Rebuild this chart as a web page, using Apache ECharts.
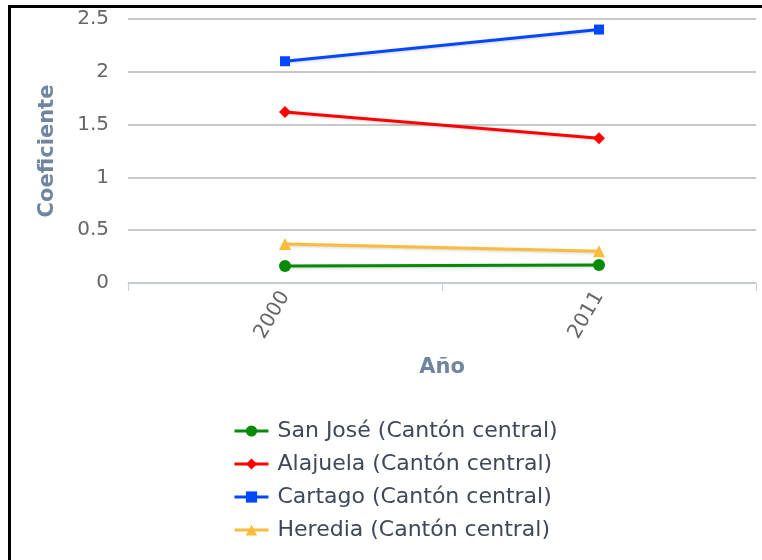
<!DOCTYPE html>
<html>
<head>
<meta charset="utf-8">
<script src="https://cdn.jsdelivr.net/npm/echarts@6/dist/echarts.min.js"></script>
<style>
  html, body { margin: 0; padding: 0; background: #fff; }
  #chart { width: 762px; height: 560px; }
</style>
</head>
<body>
<div id="chart"></div>
<script>
// Years on the category axis
const years = ['2000', '2011'];

// Coefficient per canton (central canton of each province)
const sanJose = [0.16, 0.17];
const alajuela = [1.62, 1.37];
const cartago = [2.10, 2.40];
const heredia = [0.37, 0.30];

const seriesNames = [
  'San José (Cantón central)',
  'Alajuela (Cantón central)',
  'Cartago (Cantón central)',
  'Heredia (Cantón central)'
];

const FONT = '"DejaVu Sans", "Lucida Grande", sans-serif';

function lineSeries(name, data, color, symbol, size) {
  return {
    name: name,
    type: 'line',
    data: data,
    symbol: symbol,
    symbolSize: size,
    showAllSymbol: true,
    itemStyle: { color: color },
    lineStyle: {
      color: color,
      width: 3,
      shadowColor: 'rgba(0,0,0,0.18)',
      shadowBlur: 3,
      shadowOffsetX: 1,
      shadowOffsetY: 1
    },
    emphasis: { disabled: true },
    animation: false
  };
}

const chart = echarts.init(document.getElementById('chart'), null, { renderer: 'canvas' });

chart.setOption({
  backgroundColor: '#ffffff',
  animation: false,
  grid: { left: 128, right: 6, top: 19, bottom: 277, containLabel: false },
  xAxis: {
    type: 'category',
    data: years,
    boundaryGap: true,
    name: 'Año',
    nameLocation: 'middle',
    nameGap: 74,
    nameTextStyle: { fontFamily: FONT, fontSize: 21, fontWeight: 'bold', color: '#6f86a1' },
    axisLine: { show: true, lineStyle: { color: '#c0d0e0', width: 1 } },
    axisTick: { show: true, length: 8, lineStyle: { color: '#c0d0e0' } },
    axisLabel: { rotate: 60, margin: 10, fontFamily: FONT, fontSize: 20, color: '#666666' },
    splitLine: { show: false }
  },
  yAxis: {
    type: 'value',
    min: 0,
    max: 2.5,
    interval: 0.5,
    name: 'Coeficiente',
    nameLocation: 'middle',
    nameGap: 70,
    nameRotate: 90,
    nameTextStyle: { fontFamily: FONT, fontSize: 21, fontWeight: 'bold', color: '#6f86a1' },
    axisLine: { show: false },
    axisTick: { show: false },
    axisLabel: { margin: 19, fontFamily: FONT, fontSize: 20, color: '#666666' },
    splitLine: { show: true, lineStyle: { color: '#c8c8c8', width: 2 } }
  },
  legend: {
    orient: 'vertical',
    left: 228,
    top: 415,
    itemGap: 11,
    itemWidth: 34,
    itemHeight: 14,
    data: seriesNames,
    lineStyle: { width: 3 },
    textStyle: { fontFamily: FONT, fontSize: 22, color: '#3d4858', padding: [0, 0, 0, 4] }
  },
  graphic: [
    { type: 'line', shape: { x1: 8, y1: 6.5, x2: 762, y2: 6.5 }, style: { stroke: '#000', lineWidth: 3 }, silent: true },
    { type: 'line', shape: { x1: 9.5, y1: 5, x2: 9.5, y2: 560 }, style: { stroke: '#000', lineWidth: 3 }, silent: true }
  ],
  series: [
    lineSeries(seriesNames[0], sanJose, '#078a07', 'circle', 12),
    lineSeries(seriesNames[1], alajuela, '#ff0000', 'diamond', 12),
    lineSeries(seriesNames[2], cartago, '#0048ff', 'rect', 10),
    lineSeries(seriesNames[3], heredia, '#fbbc3b', 'triangle', 12)
  ]
});
</script>
</body>
</html>
